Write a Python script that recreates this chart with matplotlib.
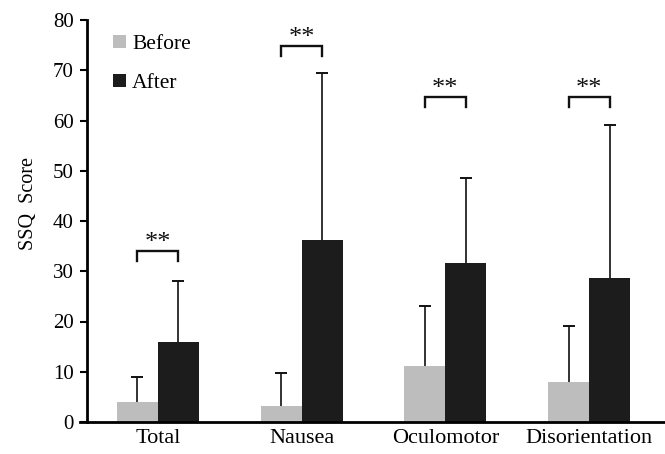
import matplotlib
matplotlib.use("Agg")
import matplotlib.pyplot as plt
import numpy as np
from matplotlib.patches import Patch

categories = ["Total", "Nausea", "Oculomotor", "Disorientation"]
before_mean = [4.0, 3.2, 11.2, 7.9]
before_err = [4.9, 6.6, 11.9, 11.3]
after_mean = [16.0, 36.3, 31.6, 28.7]
after_err = [12.1, 33.2, 17.0, 30.5]
bracket_y = [34.1, 74.9, 64.7, 64.7]
sig_labels = ["**", "**", "**", "**"]
yticks = [0, 10, 20, 30, 40, 50, 60, 70, 80]

plt.rcParams['font.family'] = ['Liberation Serif', 'DejaVu Serif']

fig = plt.figure(figsize=(6.65, 4.54), dpi=100)
ax = fig.add_axes([87/665, 1-422/454, 1-87/665, 402/454])

x = np.arange(len(categories))
w = 0.285
c_before = '#bdbdbd'
c_after = '#1c1c1c'
ecol = '#111111'

before_mean = np.array(before_mean)
after_mean = np.array(after_mean)
before_top = before_mean + np.array(before_err)
after_top = after_mean + np.array(after_err)

# error bars (upper only), drawn behind bars
ax.vlines(x - w/2, before_mean, before_top, color=ecol, lw=1.2, zorder=1)
ax.vlines(x + w/2, after_mean, after_top, color=ecol, lw=1.2, zorder=1)
ax.plot(x - w/2, before_top, ls='none', marker='_', ms=9, mew=1.4, color=ecol, zorder=1)
ax.plot(x + w/2, after_top, ls='none', marker='_', ms=9, mew=1.4, color=ecol, zorder=1)

ax.bar(x - w/2, before_mean, w, color=c_before, edgecolor='none', label='Before', zorder=2)
ax.bar(x + w/2, after_mean, w, color=c_after, edgecolor='none', label='After', zorder=2)

drop = 2.1
for xi, by, s in zip(x, bracket_y, sig_labels):
    x0, x1 = xi - w/2, xi + w/2
    ax.plot([x0, x0, x1, x1], [by - drop, by, by, by - drop], color=ecol,
            lw=1.7, solid_joinstyle='miter')
    ax.text(xi, by - 0.6, s, ha='center', va='bottom', fontsize=19, color=ecol)

ax.set_xlim(-0.493, 3.528)
ax.set_ylim(0, 80)
ax.set_yticks(yticks)
ax.set_xticks(x)
ax.set_xticklabels(categories, fontsize=16)
ax.tick_params(axis='x', length=0, pad=5)
ax.tick_params(axis='y', direction='out', length=5, width=1.5, labelsize=15, pad=4.5)
for sp in ['top', 'right']:
    ax.spines[sp].set_visible(False)
ax.spines['left'].set_linewidth(2)
ax.spines['bottom'].set_linewidth(2)
ax.spines['bottom'].set_bounds(-0.54, 3.528)
ax.set_ylabel('SSQ  Score', fontsize=14.5)
ax.yaxis.set_label_coords(-0.085, (422-204)/402)

handles = [Patch(facecolor=c_before, edgecolor='none'), Patch(facecolor=c_after, edgecolor='none')]
ax.legend(handles, ['Before', 'After'], loc='upper left', bbox_to_anchor=(0.026, 0.99),
          frameon=False, fontsize=15.5, handlelength=0.6, handleheight=0.6,
          handletextpad=0.3, labelspacing=0.9, borderpad=0)

fig.savefig('out.png', dpi=100)
